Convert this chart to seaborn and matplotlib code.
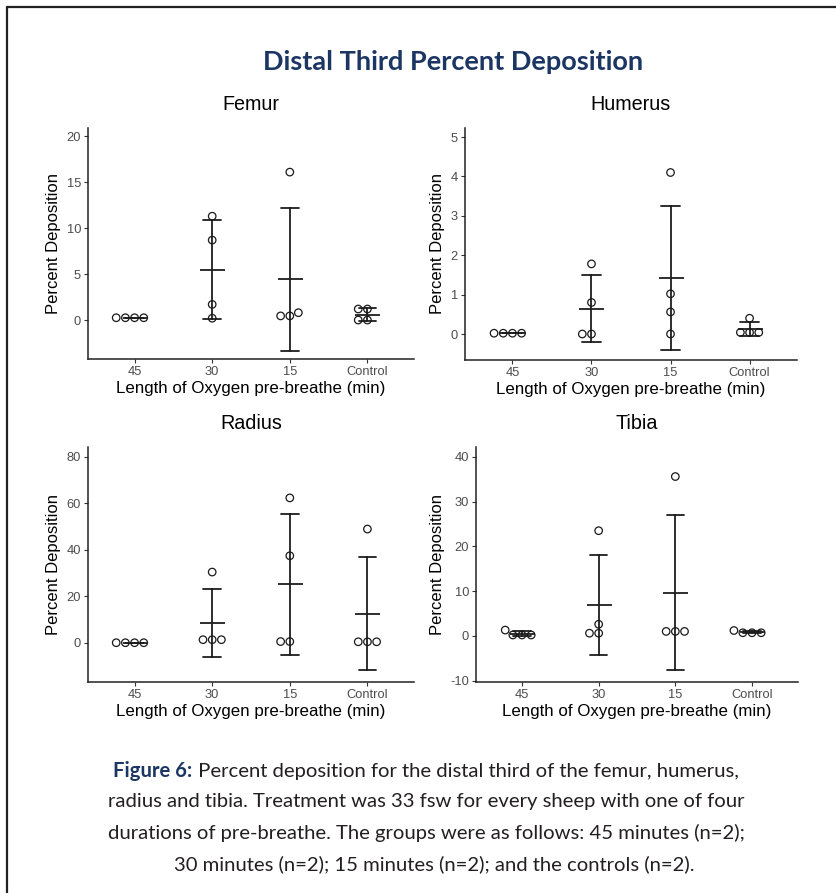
import numpy as np
import pandas as pd
import matplotlib
matplotlib.use("Agg")
import matplotlib.pyplot as plt
from matplotlib.lines import Line2D
import seaborn as sns

# ---------------- data ----------------
groups = ["45", "30", "15", "Control"]

femur_45 = [0.25, 0.25, 0.25, 0.25]
femur_30 = [11.3, 8.7, 1.7, 0.2]
femur_15 = [16.1, 0.8, 0.45, 0.45]
femur_ctl = [1.2, 1.2, 0.0, 0.0]

humerus_45 = [0.02, 0.02, 0.02, 0.02]
humerus_30 = [1.78, 0.8, 0.0, 0.0]
humerus_15 = [4.1, 1.02, 0.56, 0.0]
humerus_ctl = [0.4, 0.04, 0.04, 0.04]

radius_45 = [0.1, 0.1, 0.1, 0.1]
radius_30 = [30.5, 1.4, 1.4, 1.4]
radius_15 = [62.4, 37.5, 0.6, 0.6]
radius_ctl = [49.0, 0.5, 0.5, 0.5]

tibia_45 = [1.3, 0.2, 0.2, 0.2]
tibia_30 = [23.5, 2.6, 0.6, 0.6]
tibia_15 = [35.6, 1.0, 1.0, 1.0]
tibia_ctl = [1.2, 0.7, 0.7, 0.7]

femur_ticks = [0, 5, 10, 15, 20]
humerus_ticks = [0, 1, 2, 3, 4, 5]
radius_ticks = [0, 20, 40, 60, 80]
tibia_ticks = [-10, 0, 10, 20, 30, 40]

main_title = "Distal Third Percent Deposition"
x_label = "Length of Oxygen pre-breathe (min)"
y_label = "Percent Deposition"
caption_bold = "Figure 6:"
caption_line1 = " Percent deposition for the distal third of the femur, humerus,"
caption_rest = [
    "radius and tibia. Treatment was 33 fsw for every sheep with one of four",
    "durations of pre-breathe. The groups were as follows: 45 minutes (n=2);",
    "30 minutes (n=2); 15 minutes (n=2); and the controls (n=2).",
]

# ---------------- styling ----------------
sns.set_theme(style="ticks")
plt.rcParams["font.family"] = ["Liberation Sans", "DejaVu Sans"]

NAVY = "#1C3664"
TXT = "#231F20"
TICK_GRAY = "#4D4D4D"

W, H = 836, 893
fig = plt.figure(figsize=(W / 100, H / 100), dpi=100)
fig.patch.set_facecolor("white")


def fx(px):
    return px / W


def fy(py):
    return 1 - py / H


def panel(rect_px, title, arrays, ticks, ylim):
    l, t, r, b = rect_px
    ax = fig.add_axes([fx(l), fy(b), fx(r) - fx(l), fy(t) - fy(b)])
    vals = []
    grp = []
    for g, arr in zip(groups, arrays):
        vals += list(arr)
        grp += [g] * len(arr)
    df = pd.DataFrame({"group": pd.Categorical(grp, categories=groups), "value": vals})

    sns.swarmplot(data=df, x="group", y="value", order=groups, ax=ax,
                  size=5.4, marker="o", facecolor="none", edgecolor="#1a1a1a",
                  linewidth=0.9, color="none", zorder=3)
    for coll in ax.collections:
        coll.set_facecolor("none")
        coll.set_edgecolor("#1a1a1a")
        coll.set_linewidth(0.9)

    sns.pointplot(data=df, x="group", y="value", order=groups, ax=ax,
                  estimator="mean", errorbar="sd", capsize=0.23,
                  linestyle="none", marker="_", markersize=18,
                  markeredgewidth=1.3, color="#1e1e1e",
                  err_kws={"linewidth": 1.3})

    ax.set_xlim(-0.6, 3.6)
    ax.set_ylim(*ylim)
    ax.set_yticks(ticks)
    ax.set_yticklabels([str(v) for v in ticks])
    ax.set_title(title, fontsize=14.2, color="black", pad=13)
    ax.set_xlabel(x_label, fontsize=12.2, color="black", labelpad=2)
    ax.set_ylabel(y_label, fontsize=12, color="black", labelpad=4)
    ax.tick_params(axis="both", labelsize=9.3, colors="#333333", labelcolor=TICK_GRAY,
                   length=3, width=0.8, pad=2)
    for s in ["top", "right"]:
        ax.spines[s].set_visible(False)
    for s in ["left", "bottom"]:
        ax.spines[s].set_color("#222222")
        ax.spines[s].set_linewidth(1.1)
    ax.set_facecolor("white")
    return ax


panel((88, 128, 414, 359), "Femur",
      [femur_45, femur_30, femur_15, femur_ctl], femur_ticks, (-4.24, 20.9))
panel((465, 128, 797, 360), "Humerus",
      [humerus_45, humerus_30, humerus_15, humerus_ctl], humerus_ticks, (-0.66, 5.23))
panel((88, 447, 414, 682), "Radius",
      [radius_45, radius_30, radius_15, radius_ctl], radius_ticks, (-16.8, 84.3))
panel((476, 447, 798, 682), "Tibia",
      [tibia_45, tibia_30, tibia_15, tibia_ctl], tibia_ticks, (-10.3, 42.2))

# main title
fig.text(fx(453), fy(62), main_title, ha="center", va="center",
         fontsize=19.5, fontweight="bold", color=NAVY, family=["Lato", "DejaVu Sans"])

# caption
cap_font = ["Lato", "DejaVu Sans"]
cap_size = 14.6
renderer = fig.canvas.get_renderer()
tb = fig.text(0, fy(771), caption_bold, ha="left", va="center", fontsize=cap_size,
              fontweight="bold", color=NAVY, family=cap_font)
tr = fig.text(0, fy(771), caption_line1, ha="left", va="center", fontsize=cap_size,
              color=TXT, family=cap_font)
wb = tb.get_window_extent(renderer).width
wr = tr.get_window_extent(renderer).width
cx = 426
x0 = cx - (wb + wr) / 2
tb.set_x(fx(x0))
tr.set_x(fx(x0 + wb))
for i, line in enumerate(caption_rest):
    fig.text(fx(cx + (8 if i == 2 else 0)), fy(802 + 31 * i), line, ha="center", va="center",
             fontsize=cap_size, color=TXT, family=cap_font)

# frame lines (top and left)
fig.add_artist(Line2D([fx(7), 1.0], [fy(7), fy(7)], color="#222222", lw=1.6))
fig.add_artist(Line2D([fx(7), fx(7)], [fy(7), 0.0], color="#222222", lw=1.6))

fig.savefig("out.png", dpi=100, facecolor="white")
